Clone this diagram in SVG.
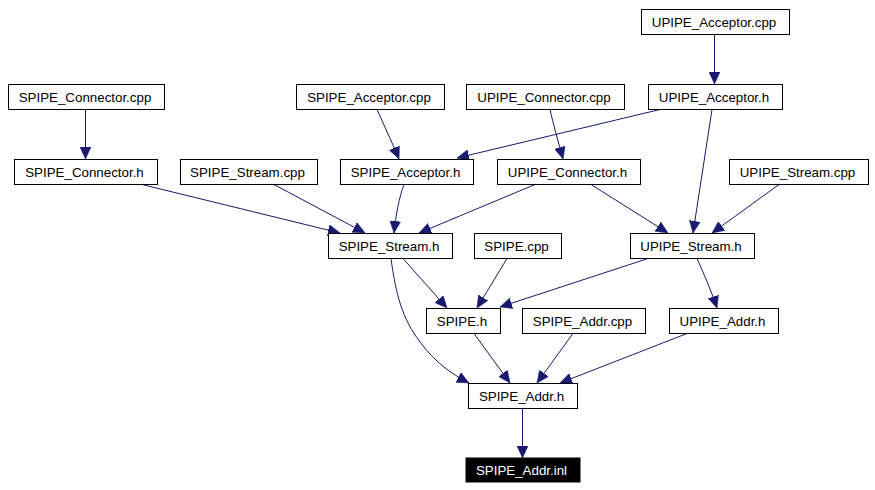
<svg xmlns="http://www.w3.org/2000/svg" width="875" height="490" viewBox="0 0 875 490">
<style>
.n rect{fill:#fff;stroke:#000;stroke-width:1}
.n text{font-family:"Liberation Sans",Arial,sans-serif;font-size:13.33px;text-anchor:middle;fill:#000}
#n_inl rect{fill:#000;stroke:#000}
#n_inl text{fill:#fff}
.e path{fill:none;stroke:#191970;stroke-width:1;marker-end:url(#a)}
</style>
<defs>
<marker id="a" markerUnits="userSpaceOnUse" viewBox="0 0 12 11" markerWidth="12" markerHeight="11" refX="12" refY="5.5" orient="auto">
<path d="M0,0 L12,5.5 L0,11 z" fill="#191970" stroke="#191970" stroke-width="0.5"/>
</marker>
</defs>
<rect width="875" height="490" fill="#fff"/>
<g class="e" id="edges">
<path d="M714.5,34.5 L714.5,84"/>
<path d="M85.5,109.5 L85.5,159"/>
<path d="M377,109.5 C383,123 391,140 399,159"/>
<path d="M550,109.5 C553,123 558,141 563,159"/>
<path d="M660,109.5 L457,158"/>
<path d="M712,109.5 L693,233"/>
<path d="M142,184.5 L340,233"/>
<path d="M274,184.5 L365,233"/>
<path d="M404,184.5 C399,198 396,214 394,233"/>
<path d="M535,184.5 L419,233"/>
<path d="M591,184.5 L668,233"/>
<path d="M779,184.5 L712,233"/>
<path d="M403,258.5 L447,308"/>
<path d="M391,258.5 C396,295 402,318 420,342 C435,362 450,373 469,383"/>
<path d="M507,258.5 L477,308"/>
<path d="M648,258.5 L500,307"/>
<path d="M697,258.5 C703,272 711,290 717,308"/>
<path d="M474,333.5 L510,383"/>
<path d="M573,333.5 L537,383"/>
<path d="M687,333.5 L560,383"/>
<path d="M522.5,408.5 L522.5,458"/>
</g>
<g class="n" id="n_upipe_acceptor_cpp"><rect x="641.5" y="9.5" width="148" height="25"/><text x="714" y="26.7">UPIPE_Acceptor.cpp</text></g>
<g class="n" id="n_spipe_connector_cpp"><rect x="8.5" y="84.5" width="156" height="25"/><text x="85" y="101.7">SPIPE_Connector.cpp</text></g>
<g class="n" id="n_spipe_acceptor_cpp"><rect x="296.5" y="84.5" width="148" height="25"/><text x="369" y="101.7">SPIPE_Acceptor.cpp</text></g>
<g class="n" id="n_upipe_connector_cpp"><rect x="466.5" y="84.5" width="158" height="25"/><text x="544" y="101.7">UPIPE_Connector.cpp</text></g>
<g class="n" id="n_upipe_acceptor_h"><rect x="648.5" y="84.5" width="134" height="25"/><text x="714" y="101.7">UPIPE_Acceptor.h</text></g>
<g class="n" id="n_spipe_connector_h"><rect x="14.5" y="159.5" width="143" height="25"/><text x="84.5" y="176.7">SPIPE_Connector.h</text></g>
<g class="n" id="n_spipe_stream_cpp"><rect x="180.5" y="159.5" width="137" height="25"/><text x="247.5" y="176.7">SPIPE_Stream.cpp</text></g>
<g class="n" id="n_spipe_acceptor_h"><rect x="340.5" y="159.5" width="133" height="25"/><text x="405.5" y="176.7">SPIPE_Acceptor.h</text></g>
<g class="n" id="n_upipe_connector_h"><rect x="497.5" y="159.5" width="143" height="25"/><text x="567.5" y="176.7">UPIPE_Connector.h</text></g>
<g class="n" id="n_upipe_stream_cpp"><rect x="729.5" y="159.5" width="139" height="25"/><text x="797.5" y="176.7">UPIPE_Stream.cpp</text></g>
<g class="n" id="n_spipe_stream_h"><rect x="328.5" y="233.5" width="124" height="25"/><text x="389" y="250.7">SPIPE_Stream.h</text></g>
<g class="n" id="n_spipe_cpp"><rect x="474.5" y="233.5" width="87" height="25"/><text x="516.5" y="250.7">SPIPE.cpp</text></g>
<g class="n" id="n_upipe_stream_h"><rect x="630.5" y="233.5" width="124" height="25"/><text x="691" y="250.7">UPIPE_Stream.h</text></g>
<g class="n" id="n_spipe_h"><rect x="426.5" y="308.5" width="74" height="25"/><text x="462" y="325.7">SPIPE.h</text></g>
<g class="n" id="n_spipe_addr_cpp"><rect x="522.5" y="308.5" width="123" height="25"/><text x="582.5" y="325.7">SPIPE_Addr.cpp</text></g>
<g class="n" id="n_upipe_addr_h"><rect x="669.5" y="308.5" width="109" height="25"/><text x="722.5" y="325.7">UPIPE_Addr.h</text></g>
<g class="n" id="n_spipe_addr_h"><rect x="468.5" y="383.5" width="109" height="25"/><text x="521.5" y="400.7">SPIPE_Addr.h</text></g>
<g class="n" id="n_inl"><rect x="466" y="458" width="114" height="24"/><text x="521.5" y="474.7">SPIPE_Addr.inl</text></g>
</svg>
